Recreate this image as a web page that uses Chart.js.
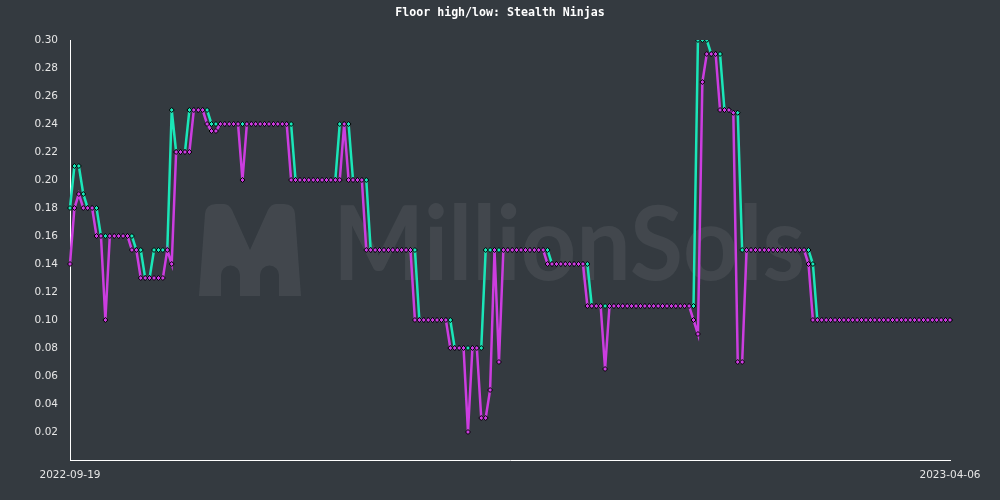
<!DOCTYPE html>
<html><head><meta charset="utf-8">
<script src="https://cdn.jsdelivr.net/npm/chart.js@4.4.0/dist/chart.umd.min.js"></script>
<style>html,body{margin:0;padding:0;background:#343a40;overflow:hidden}</style>
</head><body>
<canvas id="c" width="1000" height="500"></canvas>
<script>
const chartTitle = 'Floor high/low: Stealth Ninjas';
const firstDay = '2022-09-19';
const dayCount = 200;
const yTickValues = [0.02,0.04,0.06,0.08,0.10,0.12,0.14,0.16,0.18,0.20,0.22,0.24,0.26,0.28,0.30];

const floorHigh = [
 0.18,0.21,0.21,0.19,0.18,0.18,0.18,0.16,0.16,0.16,
 0.16,0.16,0.16,0.16,0.16,0.15,0.15,0.13,0.13,0.15,
 0.15,0.15,0.15,0.25,0.22,0.22,0.22,0.25,0.25,0.25,
 0.25,0.25,0.24,0.24,0.24,0.24,0.24,0.24,0.24,0.24,
 0.24,0.24,0.24,0.24,0.24,0.24,0.24,0.24,0.24,0.24,
 0.24,0.20,0.20,0.20,0.20,0.20,0.20,0.20,0.20,0.20,
 0.20,0.24,0.24,0.24,0.20,0.20,0.20,0.20,0.15,0.15,
 0.15,0.15,0.15,0.15,0.15,0.15,0.15,0.15,0.15,0.10,
 0.10,0.10,0.10,0.10,0.10,0.10,0.10,0.08,0.08,0.08,
 0.08,0.08,0.08,0.08,0.15,0.15,0.15,0.15,0.15,0.15,
 0.15,0.15,0.15,0.15,0.15,0.15,0.15,0.15,0.15,0.14,
 0.14,0.14,0.14,0.14,0.14,0.14,0.14,0.14,0.11,0.11,
 0.11,0.11,0.11,0.11,0.11,0.11,0.11,0.11,0.11,0.11,
 0.11,0.11,0.11,0.11,0.11,0.11,0.11,0.11,0.11,0.11,
 0.11,0.11,0.30,0.30,0.30,0.29,0.29,0.29,0.25,0.25,
 0.248,0.248,0.15,0.15,0.15,0.15,0.15,0.15,0.15,0.15,
 0.15,0.15,0.15,0.15,0.15,0.15,0.15,0.15,0.14,0.10,
 0.10,0.10,0.10,0.10,0.10,0.10,0.10,0.10,0.10,0.10,
 0.10,0.10,0.10,0.10,0.10,0.10,0.10,0.10,0.10,0.10,
 0.10,0.10,0.10,0.10,0.10,0.10,0.10,0.10,0.10,0.10
];
const floorLow = [
 0.14,0.18,0.19,0.18,0.18,0.18,0.16,0.16,0.10,0.16,
 0.16,0.16,0.16,0.16,0.15,0.15,0.13,0.13,0.13,0.13,
 0.13,0.13,0.15,0.14,0.22,0.22,0.22,0.22,0.25,0.25,
 0.25,0.24,0.235,0.235,0.24,0.24,0.24,0.24,0.24,0.20,
 0.24,0.24,0.24,0.24,0.24,0.24,0.24,0.24,0.24,0.24,
 0.20,0.20,0.20,0.20,0.20,0.20,0.20,0.20,0.20,0.20,
 0.20,0.20,0.24,0.20,0.20,0.20,0.20,0.15,0.15,0.15,
 0.15,0.15,0.15,0.15,0.15,0.15,0.15,0.15,0.10,0.10,
 0.10,0.10,0.10,0.10,0.10,0.10,0.08,0.08,0.08,0.08,
 0.02,0.08,0.08,0.03,0.03,0.05,0.15,0.07,0.15,0.15,
 0.15,0.15,0.15,0.15,0.15,0.15,0.15,0.15,0.14,0.14,
 0.14,0.14,0.14,0.14,0.14,0.14,0.14,0.11,0.11,0.11,
 0.11,0.065,0.11,0.11,0.11,0.11,0.11,0.11,0.11,0.11,
 0.11,0.11,0.11,0.11,0.11,0.11,0.11,0.11,0.11,0.11,
 0.11,0.10,0.09,0.27,0.29,0.29,0.29,0.25,0.25,0.25,
 0.248,0.07,0.07,0.15,0.15,0.15,0.15,0.15,0.15,0.15,
 0.15,0.15,0.15,0.15,0.15,0.15,0.15,0.14,0.10,0.10,
 0.10,0.10,0.10,0.10,0.10,0.10,0.10,0.10,0.10,0.10,
 0.10,0.10,0.10,0.10,0.10,0.10,0.10,0.10,0.10,0.10,
 0.10,0.10,0.10,0.10,0.10,0.10,0.10,0.10,0.10,0.10
];

// category labels: one per day
const dayLabels = [];
(function(){
  const d0 = new Date(firstDay + 'T00:00:00Z');
  for (let i = 0; i < dayCount; i++) {
    const d = new Date(d0.getTime() + i * 86400000);
    dayLabels.push(d.toISOString().slice(0,10));
  }
})();

const BG = '#343a40';
const HIGH_C = '#1ae6b8';
const LOW_C = '#cc3de0';
const TEXT_C = '#e6e6e6';

const watermark = {
  id: 'watermark',
  beforeDatasetsDraw(chart) {
    const ctx = chart.ctx;
    ctx.save();
    ctx.fillStyle = 'rgba(255,255,255,0.07)';
    // logo
    ctx.beginPath();
    ctx.moveTo(199, 296);
    ctx.lineTo(205, 214);
    ctx.quadraticCurveTo(206, 204, 216, 204);
    ctx.lineTo(224, 204);
    ctx.quadraticCurveTo(229, 204, 232, 210);
    ctx.lineTo(250, 250);
    ctx.lineTo(268, 210);
    ctx.quadraticCurveTo(271, 204, 276, 204);
    ctx.lineTo(284, 204);
    ctx.quadraticCurveTo(294, 204, 295, 214);
    ctx.lineTo(301, 296);
    ctx.lineTo(279, 296);
    ctx.lineTo(279, 275);
    ctx.arc(269.5, 275, 9.5, 0, Math.PI, true);
    ctx.lineTo(260, 296);
    ctx.lineTo(240, 296);
    ctx.lineTo(240, 275);
    ctx.arc(230.5, 275, 9.5, 0, Math.PI, true);
    ctx.lineTo(221, 296);
    ctx.closePath();
    ctx.fill();
    // text
    ctx.font = 'bold 104px Lato, Inter, sans-serif';
    ctx.textBaseline = 'alphabetic';
    ctx.textAlign = 'left';
    const w = ctx.measureText('MillionSols').width;
    ctx.translate(333, 280);
    ctx.scale(472 / w, 1);
    ctx.fillText('MillionSols', 0, 0);
    ctx.restore();
  }
};

const bgPlugin = {
  id: 'bg',
  beforeDraw(chart) {
    const ctx = chart.ctx;
    ctx.save();
    ctx.fillStyle = BG;
    ctx.fillRect(0, 0, chart.width, chart.height);
    ctx.restore();
  }
};

// centred title over the full canvas width
const titlePlugin = {
  id: 'centredTitle',
  afterDraw(chart) {
    const ctx = chart.ctx;
    ctx.save();
    ctx.fillStyle = '#ffffff';
    ctx.font = "bold 11.6px 'DejaVu Sans Mono', monospace";
    ctx.textAlign = 'center';
    ctx.textBaseline = 'middle';
    ctx.fillText(chartTitle, chart.width / 2, 13);
    ctx.restore();
  }
};

new Chart(document.getElementById('c'), {
  type: 'line',
  data: {
    labels: dayLabels,
    datasets: [
      {
        label: 'High',
        data: floorHigh,
        borderColor: HIGH_C,
        backgroundColor: HIGH_C,
        pointBackgroundColor: HIGH_C,
        pointBorderColor: '#000',
        borderWidth: 2.5,
        tension: 0,
        pointStyle: 'rectRot',
        pointRadius: 2.5,
        pointBorderWidth: 1,
        order: 2
      },
      {
        label: 'Low',
        data: floorLow,
        borderColor: LOW_C,
        backgroundColor: LOW_C,
        pointBackgroundColor: LOW_C,
        pointBorderColor: '#000',
        borderWidth: 2.5,
        tension: 0,
        pointStyle: 'rectRot',
        pointRadius: 2.5,
        pointBorderWidth: 1,
        order: 1
      }
    ]
  },
  options: {
    responsive: false,
    animation: false,
    devicePixelRatio: 1,
    layout: { padding: { left: 0, right: 50, top: 40, bottom: 0 } },
    plugins: {
      legend: { display: false },
      tooltip: { enabled: false },
      title: { display: false }
    },
    scales: {
      x: {
        type: 'category',
        grid: { display: false, drawTicks: false },
        border: { display: true, color: '#ffffff', width: 1 },
        ticks: {
          autoSkip: false,
          maxRotation: 0,
          minRotation: 0,
          color: TEXT_C,
          padding: 9,
          font: { family: "'DejaVu Sans', sans-serif", size: 10.5 },
          callback: function(v, i) { return (i === 0 || i === dayLabels.length - 1) ? dayLabels[i] : ''; }
        },
        afterFit(s) { s.height = 40; }
      },
      y: {
        min: 0,
        max: 0.30,
        grid: { display: false, drawTicks: false },
        border: { display: true, color: '#ffffff', width: 1 },
        afterBuildTicks(s) { s.ticks = yTickValues.map(v => ({ value: v })); },
        ticks: {
          color: TEXT_C,
          padding: 12,
          font: { family: "'DejaVu Sans', sans-serif", size: 10.5 },
          callback: v => Number(v).toFixed(2)
        },
        afterFit(s) { s.width = 70; }
      }
    }
  },
  plugins: [bgPlugin, watermark, titlePlugin]
});
</script>
</body></html>
